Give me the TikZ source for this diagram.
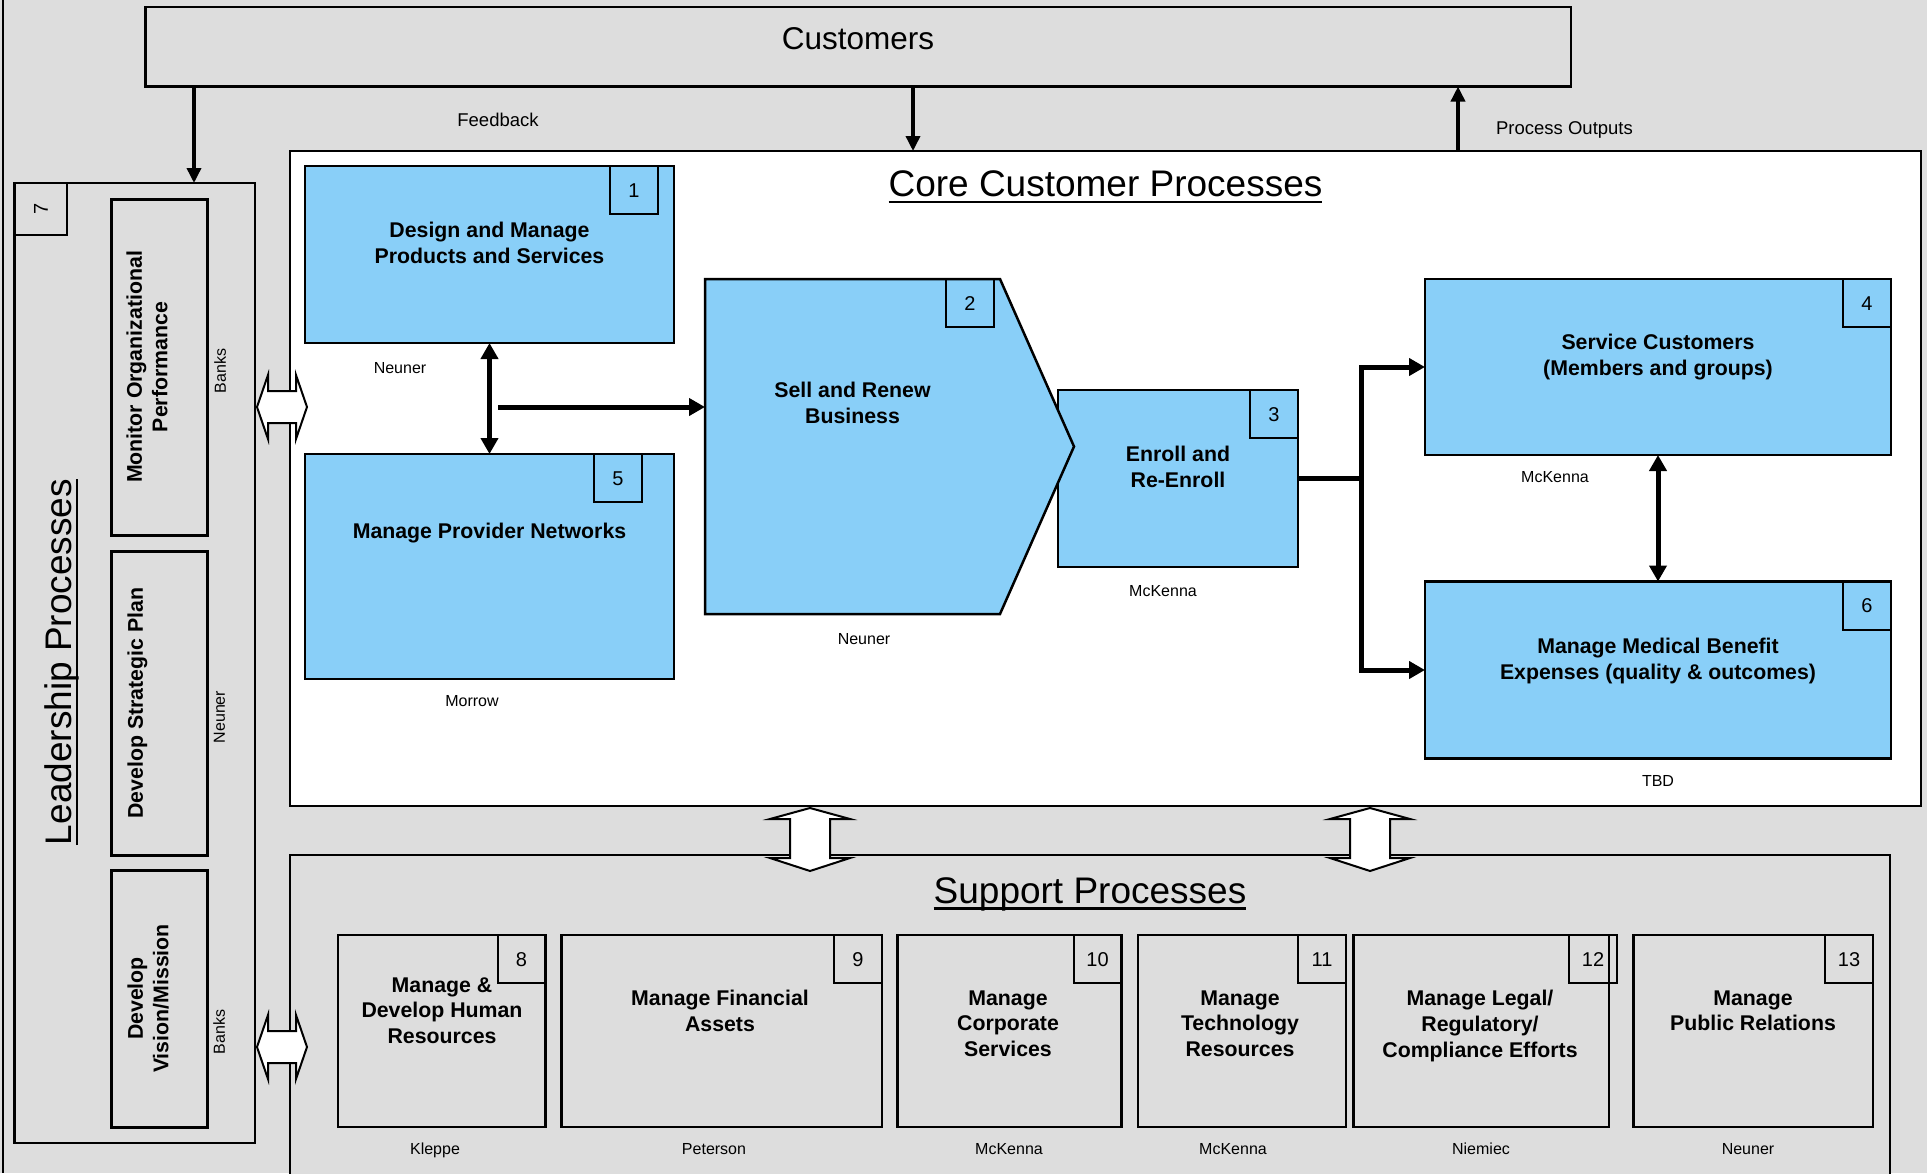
\documentclass[tikz,border=0pt]{standalone}
\usepackage{fontspec}
\setmainfont{Liberation Sans}
\usetikzlibrary{arrows.meta}
\definecolor{bggray}{RGB}{221,221,221}
\definecolor{procblue}{RGB}{137,207,248}
\newcommand{\ulined}[1]{\setbox0=\hbox{#1}\rlap{\vrule width\wd0 height -4pt depth 6.5pt}\box0}

\begin{document}
\begin{tikzpicture}[x=1pt,y=-1pt,>={Triangle[length=16pt,width=17pt]}]
    \tikzstyle{plainbox}=[draw,line width=2pt,inner sep=0pt,outer sep=0pt]
    \tikzstyle{procbox}=[plainbox,line width=2.5pt,fill=procblue]
    \tikzstyle{suppbox}=[plainbox,line width=2.5pt,fill=bggray,minimum height=192pt]
    \tikzstyle{leadbox}=[plainbox,line width=3pt,fill=bggray,minimum width=96.6pt]
    \tikzstyle{numbox}=[plainbox,minimum size=48pt,anchor=north east,font=\fontsize{20}{24}\selectfont,text height=14.4pt,text depth=0pt]
    \tikzstyle{boxtitle}=[font=\fontsize{21.3}{25.6}\selectfont\bfseries,align=center,anchor=north,inner sep=0pt]
    \tikzstyle{owner}=[font=\fontsize{16}{19}\selectfont,inner sep=0pt,text height=11.5pt,text depth=0pt]
    \tikzstyle{heading}=[font=\fontsize{37}{44}\selectfont,inner sep=0pt,anchor=base]
    \tikzstyle{flowlabel}=[font=\fontsize{18.5}{22}\selectfont,inner sep=0pt,text height=13.3pt,text depth=0pt]
    \tikzstyle{flow}=[->,line width=5pt]
    \tikzstyle{feed}=[-{Triangle[length=15pt,width=14pt]},line width=3.5pt]
    \tikzstyle{blockarrow}=[draw,fill=white,line width=2pt]
    \useasboundingbox (0,0) rectangle (1927,1173);
    \fill[bggray] (0,0) rectangle (1927,1173);
    \draw[line width=2pt] (2.5,0) -- (2.5,1173);
    % frames
    \node[plainbox,line width=2.5pt,fill=bggray,minimum width=1425.5pt,minimum height=79.5pt] (cust) at (858.25,46.75) {};
    \node[inner sep=0pt,anchor=base,font=\fontsize{31.5}{38}\selectfont] (cust-t) at (858,49.3) {Customers};
    \node[plainbox,fill=white,minimum width=1631pt,minimum height=655pt] (core) at (1105.5,478.5) {};
    \node[plainbox,fill=bggray,minimum width=1600pt,minimum height=345pt] (support) at (1090,1027.5) {};
    \node[plainbox,line width=2.5pt,fill=bggray,minimum width=240.3pt,minimum height=960pt] (lead) at (134.85,663) {};
    \node[heading] (core-t) at (1105.5,196.5) {\ulined{Core Customer Processes}};
    \node[heading] (support-t) at (1090,903) {\ulined{Support Processes}};
    \node[heading,rotate=90] (lead-t) at (71.5,662) {\ulined{Leadership Processes}};
    % leadership
    \node[leadbox,minimum height=336pt] (monitor) at (159.3,367) {};
    \node[leadbox,minimum height=304pt] (strategy) at (159.3,703) {};
    \node[leadbox,minimum height=257pt] (vision) at (159.3,998.5) {};
    \node[boxtitle,rotate=90] (monitor-t) at (126.2,367) {Monitor Organizational\\Performance};
    \node[boxtitle,rotate=90] (strategy-t) at (127.2,703) {Develop Strategic Plan};
    \node[boxtitle,rotate=90] (vision-t) at (127.2,998.5) {Develop\\Vision/Mission};
    \node[owner,rotate=90] (monitor-o) at (220,371) {Banks};
    \node[owner,rotate=90] (strategy-o) at (219,717) {Neuner};
    \node[owner,rotate=90] (vision-o) at (219,1032) {Banks};
    \node[numbox,minimum size=52pt,rotate=90] (n7) at (lead.north west) {7};
    % core processes
    \node[procbox,minimum width=369pt,minimum height=177pt] (design) at (489.5,254.5) {};
    \node[procbox,minimum width=369pt,minimum height=225pt] (provider) at (489.5,566.5) {};
    \node[procbox,minimum width=240pt,minimum height=177pt] (enroll) at (1178,478.5) {};
    \draw[procbox] (705,279) -- (1000,279) -- (1074,446.5) -- (1000,614) -- (705,614) -- cycle;
    \node[inner sep=0pt,outer sep=0pt,minimum width=295pt,minimum height=335pt] (sell) at (852.5,446.5) {};
    \node[procbox,minimum width=466pt,minimum height=176pt] (service) at (1658,367) {};
    \node[procbox,minimum width=466pt,minimum height=177pt] (medical) at (1658,670) {};
    \node[numbox,xshift=-16pt] (n1) at (design.north east) {1};
    \node[numbox,xshift=-6pt] (n2) at (sell.north east) {2};
    \node[numbox] (n3) at (enroll.north east) {3};
    \node[numbox] (n4) at (service.north east) {4};
    \node[numbox,xshift=-32pt] (n5) at (provider.north east) {5};
    \node[numbox] (n6) at (medical.north east) {6};
    \node[boxtitle] (design-t) at (489.5,222.2) {Design and Manage\\Products and Services};
    \node[boxtitle] (provider-t) at (489.5,523.2) {Manage Provider Networks};
    \node[boxtitle] (sell-t) at (852.5,382.2) {Sell and Renew\\Business};
    \node[boxtitle] (enroll-t) at (1178,446.2) {Enroll and\\Re-Enroll};
    \node[boxtitle] (service-t) at (1658,334.2) {Service Customers\\(Members and groups)};
    \node[boxtitle] (medical-t) at (1658,637.8) {Manage Medical Benefit\\Expenses (quality \& outcomes)};
    \node[owner] (design-o) at (400,367.5) {Neuner};
    \node[owner] (provider-o) at (472,700.5) {Morrow};
    \node[owner] (sell-o) at (864,639) {Neuner};
    \node[owner] (enroll-o) at (1163,591) {McKenna};
    \node[owner] (service-o) at (1555,477) {McKenna};
    \node[owner] (medical-o) at (1658,780.5) {TBD};
    % support processes
    \node[suppbox,minimum width=207.5pt] (hr) at (441.75,1031) {};
    \node[suppbox,minimum width=320.4pt] (finance) at (721.8,1031) {};
    \node[suppbox,minimum width=223.9pt] (corporate) at (1009.55,1031) {};
    \node[suppbox,minimum width=208.2pt] (tech) at (1241.9,1031) {};
    \node[suppbox,minimum width=255.4pt] (legal) at (1481.3,1031) {};
    \node[suppbox,minimum width=239.3pt] (pr) at (1753.35,1031) {};
    \node[numbox] (n8) at (hr.north east) {8};
    \node[numbox] (n9) at (finance.north east) {9};
    \node[numbox] (n10) at (corporate.north east) {10};
    \node[numbox] (n11) at (tech.north east) {11};
    \node[numbox,xshift=8pt] (n12) at (legal.north east) {12};
    \node[numbox] (n13) at (pr.north east) {13};
    \node[boxtitle] (hr-t) at (442,977.2) {Manage \&\\Develop Human\\Resources};
    \node[boxtitle] (finance-t) at (720,990.2) {Manage Financial\\Assets};
    \node[boxtitle] (corporate-t) at (1008,990.2) {Manage\\Corporate\\Services};
    \node[boxtitle] (tech-t) at (1240,990.2) {Manage\\Technology\\Resources};
    \node[boxtitle] (legal-t) at (1480,990.2) {Manage Legal/\\Regulatory/\\Compliance Efforts};
    \node[boxtitle] (pr-t) at (1753,990.2) {Manage\\Public Relations};
    \node[owner] (hr-o) at (435,1148.5) {Kleppe};
    \node[owner] (finance-o) at (714,1148.5) {Peterson};
    \node[owner] (corporate-o) at (1009,1148.5) {McKenna};
    \node[owner] (tech-o) at (1233,1148.5) {McKenna};
    \node[owner] (legal-o) at (1481,1148.5) {Niemiec};
    \node[owner] (pr-o) at (1748,1148.5) {Neuner};
    % customer flows
    \coordinate (xfb) at (194,0);
    \coordinate (xin) at (913,0);
    \coordinate (xout) at (1458,0);
    \draw[feed] (cust.south -| xfb) -- (lead.north -| xfb);
    \draw[feed] (cust.south -| xin) -- (core.north -| xin);
    \draw[feed] (core.north -| xout) -- (cust.south -| xout);
    \node[flowlabel] (fb-t) at (498,120) {Feedback};
    \node[flowlabel] (po-t) at (1564.5,128) {Process Outputs};
    % process flows
    \draw[flow,<->] (design.south) -- (provider.north);
    \coordinate (split) at (498,407);
    \draw[flow] (split) -- (split -| sell.west);
    \coordinate (bus) at (1361,478.5);
    \draw[flow] (enroll.east) -- (bus) |- (service.west);
    \draw[flow] (bus) |- (medical.west);
    \draw[flow,<->] (service.south) -- (medical.north);
    % block arrows
    \foreach \x in {810,1370}
      \draw[blockarrow] (\x,808) -- ++(40,11) -- ++(-20,0) -- ++(0,39) -- ++(20,0) -- (\x,871)
        -- ++(-40,-13) -- ++(20,0) -- ++(0,-39) -- ++(-20,0) -- cycle;
    \foreach \y in {407,1047}
      \draw[blockarrow] (257,\y) -- ++(11,-32) -- ++(0,16) -- ++(28,0) -- ++(0,-16) -- (307,\y)
        -- ++(-11,32) -- ++(0,-16) -- ++(-28,0) -- ++(0,16) -- cycle;
\end{tikzpicture}
\end{document}
